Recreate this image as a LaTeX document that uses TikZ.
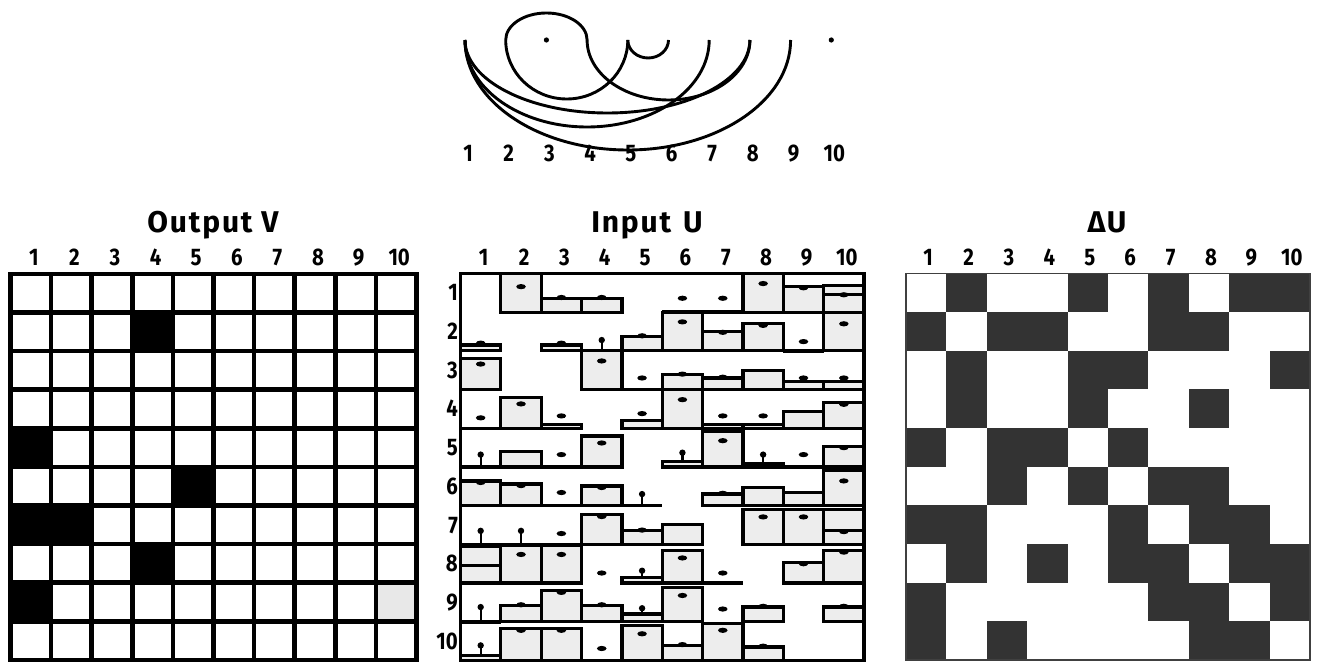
\documentclass[tikz,border=0pt]{standalone}
\usepackage{fontspec}
\newfontfamily\lblfont{Fira Sans}[FakeStretch=0.85]
\newfontfamily\ttlfont{Fira Sans}[LetterSpace=6]
\tikzset{
  digit/.style={font=\lblfont\bfseries\fontsize{24}{24}\selectfont, inner sep=0pt, anchor=base},
  ttl/.style={font=\ttlfont\bfseries\fontsize{30}{30}\selectfont, inner sep=0pt, anchor=base},
  gridline/.style={line width=4.6pt},
  bar/.style={draw=black, fill=black!7, line width=3.2pt},
  base/.style={line width=3.4pt},
  arcline/.style={line width=2.9pt},
  dk/.style={fill=black!80},
}
\newcommand{\ic}[6]{%
  \pgfmathsetmacro{\icxl}{460.5+40.35*(#2-1)}%
  \pgfmathsetmacro{\icxr}{\icxl+40.35}%
  \pgfmathsetmacro{\icxm}{\icxl+20.175}%
  \pgfmathsetmacro{\icyb}{664-273.5-38.7*#1}%
  \pgfmathsetmacro{\icyt}{\icyb+38.7*#3}%
  \pgfmathsetmacro{\icyd}{\icyb+38.7*#4}%
  \ifdim #3pt>0pt \draw[bar] (\icxl,\icyb) rectangle (\icxr,\icyt);\fi
  \ifnum #6=1 \draw[base] (\icxl,\icyb) -- (\icxr,\icyb);\fi
  \ifnum #5=1 \fill (\icxm,\icyd) ellipse [x radius=4.8, y radius=2.6];\fi
  \ifnum #5=2 \draw[line width=2.2pt] (\icxm,\icyd) -- (\icxm,\icyt); \fill (\icxm,\icyd) circle[radius=3.2];\fi
}
\begin{document}
\begin{tikzpicture}[x=1pt,y=1pt]
\useasboundingbox (0,0) rectangle (1317,664);
\fill[white] (0,0) rectangle (1317,664);

% ---------- arc diagram ----------
\foreach \i in {1,...,10} {
  \coordinate (n\i) at ({465+40.7*(\i-1)}, 664-40);
  \node[digit] (t\i) at ({468+40.7*(\i-1)}, 664-162) {\i};
}
\draw[arcline] (n1) arc[start angle=180, end angle=360, x radius=122.1, y radius=87];
\draw[arcline] (n1) arc[start angle=180, end angle=360, x radius=142.45, y radius=73];
\draw[arcline] (n1) arc[start angle=180, end angle=360, x radius=162.8, y radius=110];
\draw[arcline] (n2) arc[start angle=180, end angle=360, x radius=61.05, y radius=59];
\draw[arcline] (n4) arc[start angle=180, end angle=360, x radius=81.4, y radius=60];
\draw[arcline] (n5) arc[start angle=180, end angle=360, x radius=20.35, y radius=18];
\draw[arcline] (n2) arc[start angle=180, end angle=0, x radius=40.7, y radius=27];
\fill (n3) circle[radius=2.6];
\fill (n10) circle[radius=2.6];

% ---------- Output V ----------
\node[ttl] (otitle) at (213, 664-233) {Output V};
\foreach \c in {1,...,10}
  \node[digit] (oc\c) at ({10.5+40.6*(\c-0.5)+3}, 664-266) {\c};
\foreach \r/\c in {2/4,5/1,6/5,7/1,7/2,8/4,9/1}
  \fill ({10.5+40.6*(\c-1)}, {664-274-38.6*(\r-1)}) rectangle ++(40.6,-38.6);
\fill[black!9] ({10.5+40.6*9}, {664-274-38.6*8}) rectangle ++(40.6,-38.6);
\foreach \k in {1,...,9} {
  \draw[gridline] ({10.5+40.6*\k}, 664-274) -- ({10.5+40.6*\k}, 664-660);
  \draw[gridline] (10.5, {664-274-38.6*\k}) -- (416.5, {664-274-38.6*\k});
}
\draw[gridline] (10.5,664-274) rectangle (416.5,664-660);

% ---------- Input U ----------
\node[ttl] (ititle) at (647, 664-233) {Input\hspace{12pt}U};
\foreach \c in {1,...,10}
  \node[digit] (icl\c) at ({460.5+40.35*(\c-0.5)+3}, 664-266) {\c};
\foreach \r in {1,...,10}
  \node[digit, anchor=base east] (irl\r) at (458, {664-273.5-38.7*(\r-0.5)-8}) {\r};
% row 1
\ic{1}{2}{1}{0.66}{1}{0}
\ic{1}{3}{0.36}{0.38}{1}{0}
\ic{1}{4}{0.36}{0.38}{1}{0}
\ic{1}{6}{0}{0.36}{1}{1}
\ic{1}{7}{0}{0.36}{1}{1}
\ic{1}{8}{1}{0.74}{1}{0}
\ic{1}{9}{0.66}{0.63}{1}{0}
\ic{1}{10}{0.7}{0}{0}{0}
\ic{1}{10}{0.45}{0.45}{1}{0}
% row 2
\ic{2}{1}{0.15}{0.2}{1}{0}
\ic{2}{3}{0.15}{0.2}{1}{0}
\ic{2}{4}{0}{0.28}{2}{1}
\ic{2}{5}{0.37}{0.39}{1}{0}
\ic{2}{6}{1}{0.75}{1}{0}
\ic{2}{7}{0.5}{0.48}{1}{0}
\ic{2}{8}{0.7}{0.66}{1}{0}
\ic{2}{9}{0}{0.24}{1}{1}
\ic{2}{10}{1}{0.7}{1}{0}
% row 3
\ic{3}{1}{0.8}{0.66}{1}{0}
\ic{3}{4}{1}{0.74}{1}{0}
\ic{3}{5}{0}{0.3}{1}{1}
\ic{3}{6}{0.38}{0.4}{1}{0}
\ic{3}{7}{0.3}{0.32}{1}{0}
\ic{3}{8}{0.5}{0}{0}{0}
\ic{3}{9}{0.2}{0.3}{1}{0}
\ic{3}{10}{0.2}{0.3}{1}{0}
% row 4
\ic{4}{1}{0}{0.27}{1}{1}
\ic{4}{2}{0.79}{0.63}{1}{0}
\ic{4}{3}{0.1}{0.32}{1}{0}
\ic{4}{5}{0.2}{0.38}{1}{0}
\ic{4}{6}{1}{0.74}{1}{0}
\ic{4}{7}{0.1}{0.32}{1}{0}
\ic{4}{8}{0.1}{0.32}{1}{0}
\ic{4}{9}{0.44}{0}{0}{0}
\ic{4}{10}{0.66}{0.62}{1}{0}
% row 5
\ic{5}{1}{0}{0.32}{2}{1}
\ic{5}{2}{0.41}{0}{0}{0}
\ic{5}{3}{0}{0.32}{1}{1}
\ic{5}{4}{0.8}{0.62}{1}{0}
\ic{5}{6}{0.15}{0.37}{2}{0}
\ic{5}{7}{0.92}{0.68}{1}{0}
\ic{5}{8}{0.1}{0.32}{2}{0}
\ic{5}{9}{0}{0.32}{1}{1}
\ic{5}{10}{0.54}{0.5}{1}{0}
% row 6
\ic{6}{1}{0.64}{0.6}{1}{0}
\ic{6}{2}{0.56}{0.52}{1}{0}
\ic{6}{3}{0}{0.34}{1}{1}
\ic{6}{4}{0.51}{0.47}{1}{0}
\ic{6}{5}{0}{0.3}{2}{1}
\ic{6}{7}{0.3}{0.32}{1}{0}
\ic{6}{8}{0.47}{0}{0}{0}
\ic{6}{9}{0.34}{0}{0}{0}
\ic{6}{10}{0.9}{0.64}{1}{0}
% row 7
\ic{7}{1}{0}{0.35}{2}{1}
\ic{7}{2}{0}{0.35}{2}{1}
\ic{7}{3}{0}{0.28}{1}{1}
\ic{7}{4}{0.78}{0.72}{1}{0}
\ic{7}{5}{0.35}{0.37}{1}{0}
\ic{7}{6}{0.52}{0}{0}{0}
\ic{7}{8}{0.9}{0.71}{1}{0}
\ic{7}{9}{0.9}{0.71}{1}{0}
\ic{7}{10}{0.9}{0}{0}{0}
\ic{7}{10}{0.35}{0.33}{1}{0}
% row 8
\ic{8}{1}{0.95}{0}{0}{0}
\ic{8}{1}{0.45}{0}{0}{0}
\ic{8}{2}{0.97}{0.74}{1}{0}
\ic{8}{3}{0.97}{0.74}{1}{0}
\ic{8}{4}{0}{0.26}{1}{0}
\ic{8}{5}{0.15}{0.32}{2}{0}
\ic{8}{6}{0.84}{0.65}{1}{0}
\ic{8}{7}{0}{0.26}{1}{1}
\ic{8}{9}{0.54}{0.5}{1}{0}
\ic{8}{10}{0.84}{0.8}{1}{0}
% row 9
\ic{9}{1}{0}{0.38}{2}{1}
\ic{9}{2}{0.42}{0.44}{1}{0}
\ic{9}{3}{0.8}{0.76}{1}{0}
\ic{9}{4}{0.42}{0.44}{1}{0}
\ic{9}{5}{0.2}{0.35}{2}{0}
\ic{9}{6}{0.89}{0.68}{1}{0}
\ic{9}{7}{0}{0.33}{1}{0}
\ic{9}{8}{0.38}{0.4}{1}{0}
\ic{9}{10}{0.38}{0.4}{1}{0}
% row 10
\ic{10}{1}{0.12}{0.39}{2}{0}
\ic{10}{2}{0.82}{0.78}{1}{0}
\ic{10}{3}{0.82}{0.78}{1}{0}
\ic{10}{4}{0}{0.31}{1}{0}
\ic{10}{5}{0.9}{0.69}{1}{0}
\ic{10}{6}{0.39}{0.41}{1}{0}
\ic{10}{7}{0.95}{0.78}{1}{0}
\ic{10}{8}{0.35}{0.37}{1}{0}
\draw[line width=3.6pt] (460.5,664-273.5) rectangle (864,664-660.5);

% ---------- Delta U ----------
\node[ttl] (dtitle) at (1107, 664-233) {ΔU};
\foreach \c in {1,...,10}
  \node[digit] (dcl\c) at ({906+40.4*(\c-0.5)+2}, 664-266) {\c};
\foreach \r/\cs in {1/{2,5,7,9,10},2/{1,3,4,7,8},3/{2,5,6,10},4/{2,5,8},5/{1,3,4,6},
                    6/{3,5,7,8},7/{1,2,6,8,9},8/{2,4,6,7,9,10},9/{1,7,8,10},10/{1,3,8,9}} {
  \foreach \c in \cs
    \fill[dk] ({906+40.4*(\c-1)}, {664-273.5-38.65*(\r-1)}) rectangle ++(40.4,-38.65);
}
\draw[line width=1.8pt, black!75] (906,664-273.5) rectangle (1310,664-660);
\end{tikzpicture}
\end{document}
